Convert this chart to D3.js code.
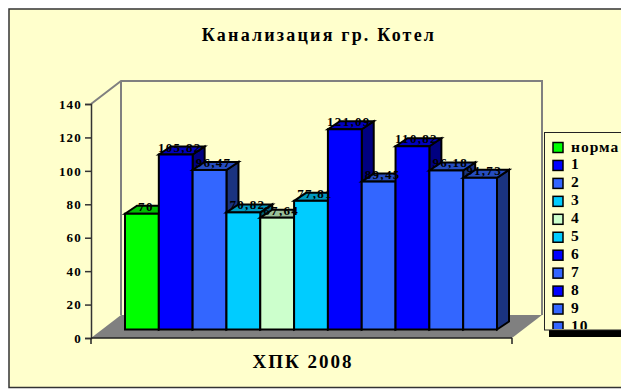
<!DOCTYPE html>
<html>
<head>
<meta charset="utf-8">
<script src="https://cdn.jsdelivr.net/npm/d3@7"></script>
<style>
  html, body { margin: 0; padding: 0; background: #fff; overflow: hidden; }
  text { font-family: "Liberation Serif", serif; font-weight: bold; fill: #000; }
</style>
</head>
<body>
<script>
var categories = ["норма", "1", "2", "3", "4", "5", "6", "7", "8", "9", "10"];
var values = [70, 105.82, 96.47, 70.82, 67.64, 77.81, 121.09, 89.45, 110.82, 96.18, 91.73];
var valueLabels = ["70", "105,82", "96,47", "70,82", "67,64", "77,81", "121,09", "89,45", "110,82", "96,18", "91,73"];
var colors = ["#00ff00", "#0000ff", "#3366ff", "#00ccff", "#ccffcc", "#00ccff", "#0000ff", "#3366ff", "#0000ff", "#3366ff", "#3366ff"];
var yTicks = [0, 20, 40, 60, 80, 100, 120, 140];
var chartTitle = "Канализация гр. Котел";
var xTitle = "ХПК 2008";

var width = 621, height = 390;
var depthX = 30, depthY = 23;      // full depth of the 3d box
var barDx = 12, barDy = 8;         // depth of one bar
var grey = "#808080";

function shade(c, k) {
  var r = d3.rgb(c);
  return d3.rgb(r.r * k, r.g * k, r.b * k);
}

var svg = d3.select("body").append("svg")
  .attr("width", width).attr("height", height)
  .style("display", "block");

svg.append("rect")
  .attr("x", 9).attr("y", 9).attr("width", 700).attr("height", 378.5)
  .attr("fill", "#ffffcc").attr("stroke", "#333").attr("stroke-width", 1.5);

svg.append("text")
  .attr("x", 319).attr("y", 41)
  .attr("text-anchor", "middle")
  .style("font-size", "18px").style("letter-spacing", "2.2px")
  .text(chartTitle);

var y = d3.scaleLinear().domain([0, 140]).range([338, 104]);
var barY = d3.scaleLinear().domain([0, 140]).range([329.5, 98]);
var x = d3.scaleBand().domain(categories).range([125, 497]);

// back wall and floor
svg.append("path")
  .attr("d", "M91," + y(140) + "L" + (91 + depthX) + "," + (y(140) - depthY)
    + "H" + (512 + depthX) + "V" + (y(0) - depthY)
    + "M" + (91 + depthX) + "," + (y(140) - depthY) + "V" + (y(0) - depthY))
  .attr("fill", "none").attr("stroke", grey).attr("stroke-width", 2);

svg.append("path")
  .attr("d", "M91," + y(0) + "L" + (91 + depthX) + "," + (y(0) - depthY)
    + "H" + (512 + depthX) + "L512," + y(0) + "Z")
  .attr("fill", grey);

// value axis
var axis = d3.axisLeft(y).tickValues(yTicks).tickSize(6).tickPadding(3);
var axisG = svg.append("g").attr("transform", "translate(91,0)").call(axis);
axisG.selectAll("path, line").attr("stroke", "#333").attr("stroke-width", 1.5);
axisG.selectAll("text")
  .style("font-size", "13px").style("letter-spacing", "1.2px")
  .style("font-family", "Liberation Serif");

// base line
svg.append("path")
  .attr("d", "M91," + y(0) + "H512M91," + y(0) + "v6M512," + y(0) + "v6")
  .attr("stroke", "#222").attr("stroke-width", 1.5).attr("fill", "none");

var bars = svg.selectAll(".bar")
  .data(values)
  .enter()
  .append("g")
  .attr("class", "bar");

bars.append("path")
  .attr("d", function (d, i) {
    var x1 = x(categories[i]) + x.bandwidth();
    return "M" + x1 + "," + barY(d) + "l" + barDx + "," + (-barDy) + "V" + (barY(0) - barDy) + "L" + x1 + "," + barY(0) + "Z";
  })
  .attr("fill", function (d, i) { return shade(colors[i], 0.5); })
  .attr("stroke", "#000").attr("stroke-width", 2);

bars.append("path")
  .attr("d", function (d, i) {
    return "M" + x(categories[i]) + "," + barY(d) + "l" + barDx + "," + (-barDy) + "h" + x.bandwidth() + "l" + (-barDx) + "," + barDy + "Z";
  })
  .attr("fill", function (d, i) { return shade(colors[i], 0.75); })
  .attr("stroke", "#000").attr("stroke-width", 2);

bars.append("rect")
  .attr("x", function (d, i) { return x(categories[i]); })
  .attr("y", function (d) { return barY(d); })
  .attr("width", x.bandwidth())
  .attr("height", function (d) { return barY(0) - barY(d); })
  .attr("fill", function (d, i) { return colors[i]; })
  .attr("stroke", "#000").attr("stroke-width", 2);

svg.selectAll(".valueLabel")
  .data(valueLabels)
  .enter()
  .append("text")
  .attr("class", "valueLabel")
  .attr("x", function (d, i) { return x(categories[i]) + x.bandwidth() / 2 + 4; })
  .attr("y", function (d, i) { return barY(values[i]) - 3; })
  .attr("text-anchor", "middle")
  .style("font-size", "13px").style("letter-spacing", "1.3px")
  .text(function (d) { return d; });

svg.append("text")
  .attr("x", 303).attr("y", 368)
  .attr("text-anchor", "middle")
  .style("font-size", "19px").style("letter-spacing", "2px")
  .text(xTitle);

// legend, runs off the right side and is clipped at its bottom like the original
svg.append("rect")
  .attr("x", 549).attr("y", 330).attr("width", 72).attr("height", 7).attr("fill", "#000");
svg.append("rect")
  .attr("x", 544.5).attr("y", 132.5).attr("width", 80).attr("height", 197.5)
  .attr("fill", "#ffffcc").attr("stroke", "#222").attr("stroke-width", 1);

svg.append("clipPath").attr("id", "legendClip")
  .append("rect").attr("x", 545).attr("y", 133).attr("width", 76).attr("height", 196);

var legend = svg.append("g").attr("clip-path", "url(#legendClip)");
var legendY = d3.scalePoint().domain(categories).range([147.5, 327]);

legend.selectAll("rect")
  .data(categories)
  .enter()
  .append("rect")
  .attr("x", 553).attr("y", function (d) { return legendY(d) - 5; })
  .attr("width", 10).attr("height", 10)
  .attr("fill", function (d, i) { return colors[i]; })
  .attr("stroke", "#000").attr("stroke-width", 1.5);

legend.selectAll("text")
  .data(categories)
  .enter()
  .append("text")
  .attr("x", 571).attr("y", function (d) { return legendY(d) + 4; })
  .style("font-size", "15.5px").style("letter-spacing", "1px")
  .text(function (d) { return d; });
</script>
</body>
</html>
